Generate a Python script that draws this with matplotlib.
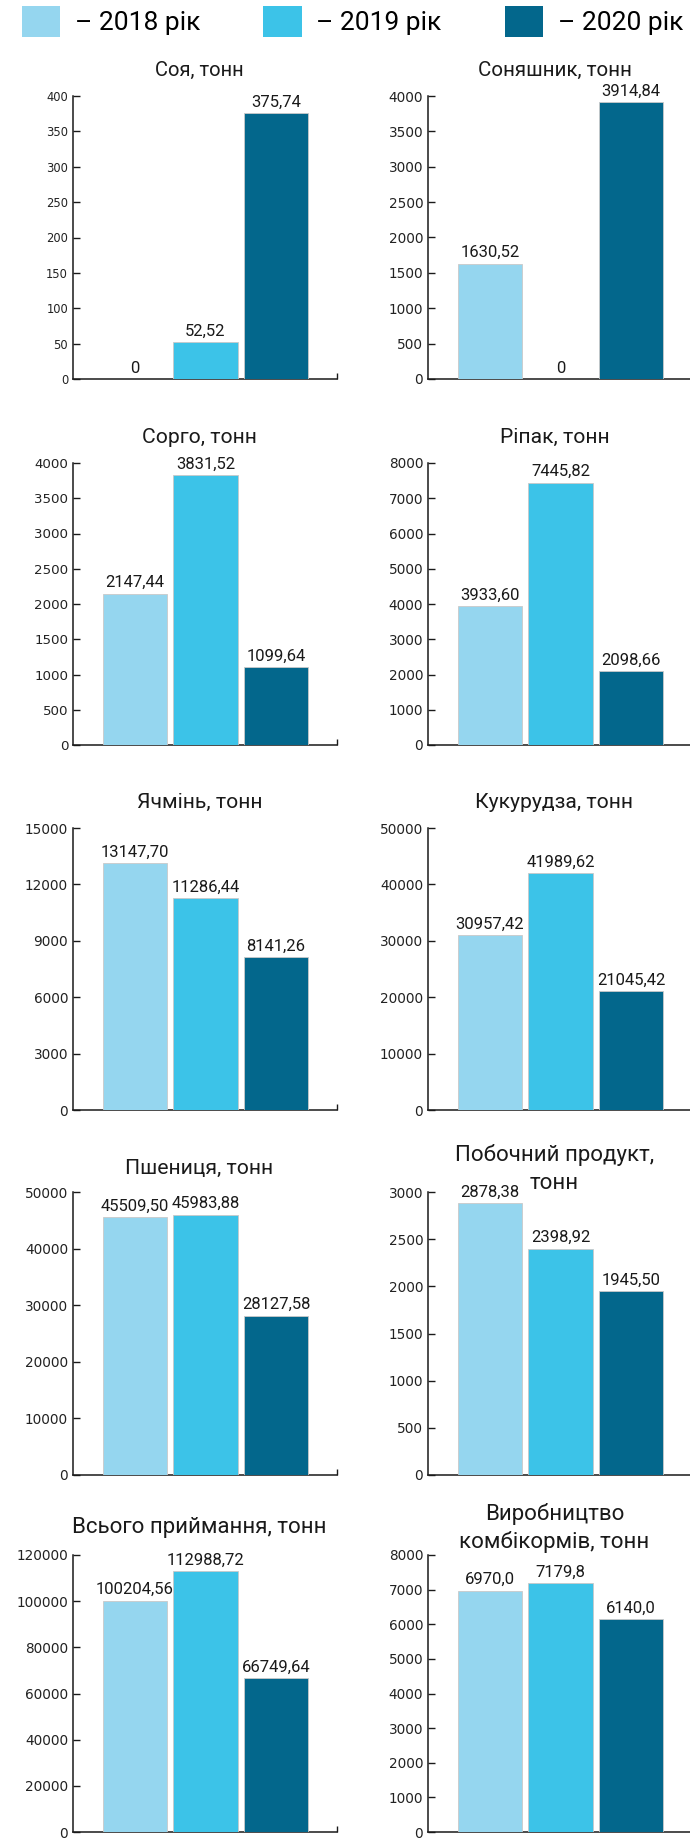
import matplotlib
matplotlib.use("Agg")
import matplotlib.pyplot as plt
from matplotlib.patches import Patch

# ---------------- data ----------------
years = ["2018 рік", "2019 рік", "2020 рік"]
titles = ["Соя, тонн", "Соняшник, тонн", "Сорго, тонн", "Ріпак, тонн",
          "Ячмінь, тонн", "Кукурудза, тонн", "Пшениця, тонн",
          "Побочний продукт,\nтонн", "Всього приймання, тонн",
          "Виробництво\nкомбікормів, тонн"]
soya = [0, 52.52, 375.74]
sunflower = [1630.52, 0, 3914.84]
sorghum = [2147.44, 3831.52, 1099.64]
rapeseed = [3933.60, 7445.82, 2098.66]
barley = [13147.70, 11286.44, 8141.26]
corn = [30957.42, 41989.62, 21045.42]
wheat = [45509.50, 45983.88, 28127.58]
byproduct = [2878.38, 2398.92, 1945.50]
total = [100204.56, 112988.72, 66749.64]
feed = [6970.0, 7179.8, 6140.0]
series = [soya, sunflower, sorghum, rapeseed, barley, corn, wheat,
          byproduct, total, feed]
ymax = [400, 4000, 4000, 8000, 15000, 50000, 50000, 3000, 120000, 8000]
ystep = [50, 500, 500, 1000, 3000, 10000, 10000, 500, 20000, 1000]
decimals = [2, 2, 2, 2, 2, 2, 2, 2, 2, 1]

colors = ["#95d6ef", "#3cc3e8", "#03678c"]

# ---------------- layout (pixels) ----------------
W, H = 690, 1839
fig = plt.figure(figsize=(W / 100, H / 100), dpi=100)
col_left = [73, 428]
ax_w = 264
row_zero = [379, 745, 1110, 1475, 1832]
row_top = [96, 463, 828, 1192, 1555]
title_gap = [20, 20, 20, 20, 20, 20, 18, 3, 22, 7]
tick_size = [8.3, 9.8, 9.6, 9.8, 9.8, 9.8, 9.8, 9.8, 9.8, 9.8]
title_size = [14.5, 14.8, 15.2, 15.2, 15.2, 15.2, 15.2, 16.0, 16.0, 16.0]
line_step = 28  # px between title lines

def fmt(v, d):
    if v == 0:
        return "0"
    return f"{v:.{d}f}".replace(".", ",")

xs = [0, 1, 2]
for i, vals in enumerate(series):
    r, c = divmod(i, 2)
    x0 = col_left[c]
    y0 = row_zero[r]
    y1 = row_top[r]
    ax = fig.add_axes([x0 / W, 1 - y0 / H, ax_w / W, (y0 - y1) / H])
    bars = ax.bar(xs, vals, width=0.908, color=colors,
                  edgecolor="#c9c9c9", linewidth=0.6, zorder=3)
    ax.bar_label(bars, labels=[fmt(v, decimals[i]) for v in vals],
                 padding=2.5, fontsize=12, family="Roboto", color="#1a1a1a")
    ax.set_xlim(-0.879, 2.865)
    ax.set_ylim(0, ymax[i])
    ticks = list(range(0, ymax[i] + 1, ystep[i]))
    ax.set_yticks(ticks)
    ax.set_yticklabels([str(t) for t in ticks], family="DejaVu Sans",
                       fontsize=tick_size[i], color="#222222")
    ax.set_xticks([2.865])
    ax.tick_params(axis="x", direction="in", length=4.5, width=1,
                   labelbottom=False, color="#1a1a1a")
    ax.tick_params(axis="y", direction="in", length=5, width=1, pad=3.5,
                   color="#1a1a1a")
    for s in ["top", "right"]:
        ax.spines[s].set_visible(False)
    for s in ["left", "bottom"]:
        ax.spines[s].set_linewidth(1.1)
        ax.spines[s].set_color("#1a1a1a")
    lines = titles[i].split("\n")
    n = len(lines)
    for k, line in enumerate(lines):
        gap_px = title_gap[i] + (n - 1 - k) * line_step
        ax.annotate(line, xy=(0.5, 1), xycoords="axes fraction",
                    xytext=(-4, gap_px * 0.72),
                    textcoords="offset points", ha="center", va="baseline",
                    fontsize=title_size[i], family="Roboto", color="#1a1a1a",
                    annotation_clip=False)

handles = [Patch(facecolor=col, edgecolor="none") for col in colors]
fig.legend(handles, ["– " + y for y in years], loc="upper left",
           bbox_to_anchor=(22 / W, 1 - 6 / H), ncol=3, frameon=False,
           prop={"family": "Roboto", "size": 19},
           handlelength=1.45, handleheight=1.45, handletextpad=0.55,
           columnspacing=2.4, borderpad=0, borderaxespad=0)

fig.savefig("out.png", dpi=100)
